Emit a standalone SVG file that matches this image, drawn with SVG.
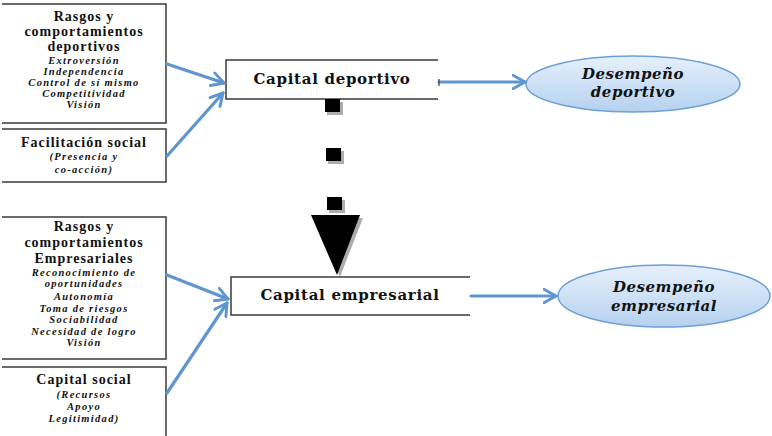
<svg xmlns="http://www.w3.org/2000/svg" width="772" height="436" viewBox="0 0 772 436">
<defs>
<style>
.frame{fill:none;stroke:#3a3a3a;stroke-width:1.5}
.ttl{font-family:"Liberation Serif","DejaVu Serif",serif;font-weight:bold;font-size:14px;letter-spacing:1px;fill:#111;text-anchor:middle}
.det{font-family:"Liberation Serif","DejaVu Serif",serif;font-weight:bold;font-style:italic;font-size:10.5px;letter-spacing:1.3px;fill:#111;text-anchor:middle}
.cap{font-family:"DejaVu Serif","Liberation Serif",serif;font-weight:bold;font-size:15px;letter-spacing:0.7px;fill:#111;text-anchor:middle}
.perf{font-family:"DejaVu Serif","Liberation Serif",serif;font-weight:bold;font-style:italic;font-size:15px;letter-spacing:0.5px;fill:#111;text-anchor:middle}
.conn{fill:none;stroke:#5f95d0;stroke-width:3.2;stroke-linecap:round}
.ell{fill:url(#eg);stroke:#6f9fd8;stroke-width:1.5}
.blk{fill:#000}
.shd{fill:#8a8a8a;opacity:0.7}
</style>
<linearGradient id="eg" x1="0" y1="0" x2="0" y2="1">
<stop offset="0" stop-color="#e6f0fb"/>
<stop offset="1" stop-color="#b5d1ef"/>
</linearGradient>
<marker id="ah" viewBox="0 0 12 12" refX="10" refY="6" markerWidth="5" markerHeight="5" orient="auto" markerUnits="strokeWidth">
<polyline points="1,1 10,6 1,11" fill="none" stroke="#5f95d0" stroke-width="2.2" stroke-linecap="round" stroke-linejoin="round"/>
</marker>
</defs>

<g id="box-rasgos-deportivos">
<path class="frame" d="M2,4 H166 V123 H2"/>
<text class="ttl" x="84" y="21">Rasgos y</text>
<text class="ttl" x="84" y="36">comportamientos</text>
<text class="ttl" x="84" y="51">deportivos</text>
<text class="det" x="84" y="64">Extroversión</text>
<text class="det" x="84" y="75">Independencia</text>
<text class="det" x="84" y="86">Control de sí mismo</text>
<text class="det" x="84" y="97">Competitividad</text>
<text class="det" x="84" y="108">Visión</text>
</g>

<g id="box-facilitacion-social">
<path class="frame" d="M2,129 H166 V182 H2"/>
<text class="ttl" x="84" y="147">Facilitación social</text>
<text class="det" x="84" y="160">(Presencia y</text>
<text class="det" x="84" y="173">co-acción)</text>
</g>

<g id="box-rasgos-empresariales">
<path class="frame" d="M2,217 H166 V359 H2"/>
<text class="ttl" x="84" y="231">Rasgos y</text>
<text class="ttl" x="84" y="247">comportamientos</text>
<text class="ttl" x="84" y="263">Empresariales</text>
<text class="det" x="84" y="276">Reconocimiento de</text>
<text class="det" x="84" y="287">oportunidades</text>
<text class="det" x="84" y="300">Autonomía</text>
<text class="det" x="84" y="312">Toma de riesgos</text>
<text class="det" x="84" y="323">Sociabilidad</text>
<text class="det" x="84" y="335">Necesidad de logro</text>
<text class="det" x="84" y="346">Visión</text>
</g>

<g id="box-capital-social">
<path class="frame" d="M2,367 H166 V436"/>
<text class="ttl" x="84" y="384">Capital social</text>
<text class="det" x="84" y="398">(Recursos</text>
<text class="det" x="84" y="410">Apoyo</text>
<text class="det" x="84" y="422">Legitimidad)</text>
</g>

<g id="node-capital-deportivo">
<path class="frame" d="M438,60 H226 V99 H438"/>
<text class="cap" x="332" y="84">Capital deportivo</text>
</g>

<g id="node-capital-empresarial">
<path class="frame" d="M470,277 H231 V315 H470"/>
<text class="cap" x="350" y="300">Capital empresarial</text>
</g>

<g id="node-desempeno-deportivo">
<ellipse class="ell" cx="633" cy="84" rx="107" ry="28"/>
<text class="perf" x="633" y="79">Desempeño</text>
<text class="perf" x="633" y="97">deportivo</text>
</g>

<g id="node-desempeno-empresarial">
<ellipse class="ell" cx="664" cy="296" rx="106" ry="31"/>
<text class="perf" x="664" y="292">Desempeño</text>
<text class="perf" x="664" y="311">empresarial</text>
</g>

<g id="connectors">
<line class="conn" x1="167" y1="64" x2="224" y2="83" marker-end="url(#ah)"/>
<line class="conn" x1="167" y1="156" x2="223" y2="93" marker-end="url(#ah)"/>
<line class="conn" x1="167" y1="275" x2="228" y2="299" marker-end="url(#ah)"/>
<line class="conn" x1="167" y1="393" x2="227" y2="303" marker-end="url(#ah)"/>
<line class="conn" x1="439" y1="82" x2="525" y2="82" marker-end="url(#ah)"/>
<line x1="439" y1="79" x2="439" y2="86" stroke="#3a3a3a" stroke-width="1.2"/>
<line class="conn" x1="471" y1="296" x2="556" y2="296" marker-end="url(#ah)"/>
<g id="dashed-arrow">
<rect class="shd" x="327" y="102" width="16" height="13"/>
<rect class="blk" x="325" y="99" width="15" height="13"/>
<rect class="shd" x="328" y="151" width="16" height="13"/>
<rect class="blk" x="326" y="148" width="15" height="13"/>
<rect class="shd" x="329" y="200" width="16" height="13"/>
<rect class="blk" x="327" y="197" width="15" height="13"/>
<polygon class="shd" points="314,218 363,218 340,277"/>
<polygon class="blk" points="311,215 360,215 337,275"/>
</g>
</g>
</svg>
